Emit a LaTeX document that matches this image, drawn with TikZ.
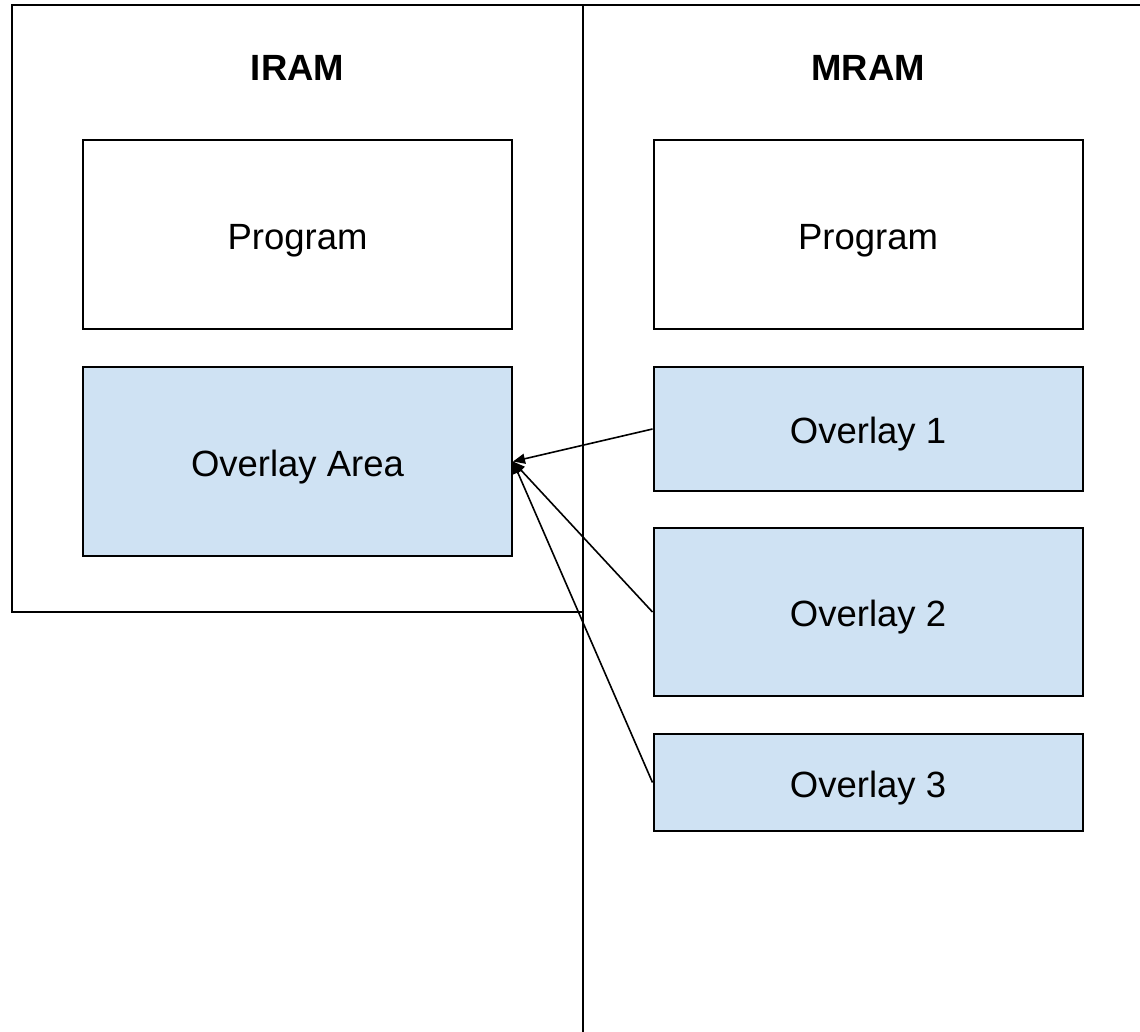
\documentclass[tikz,border=0pt]{standalone}
\usepackage{fontspec}
\setmainfont{Liberation Sans}
\usetikzlibrary{arrows.meta}
\definecolor{ovfill}{HTML}{CFE2F3}
\tikzset{
  frame/.style={line width=2pt, line cap=rect},
  membox/.style={draw=black, line width=2pt, inner sep=0pt,
    minimum width=429pt, font=\fontsize{36.5}{40}\selectfont,
    text height=29.6pt, text depth=0pt},
  ovbox/.style={membox, fill=ovfill},
  title/.style={font=\fontsize{36.5}{40}\selectfont\bfseries, anchor=base},
  link/.style={line width=1.6pt, -{Triangle[length=12pt,width=10pt]}}
}
\begin{document}
\begin{tikzpicture}[x=1pt,y=-1pt]
  \useasboundingbox (0,0) rectangle (1140,1031);
  % memory regions: IRAM frame and the open MRAM column
  \draw[frame] (11.5,612) -- (11.5,5) -- (1140,5);
  \draw[frame] (583,5) -- (583,1031);
  \draw[frame] (11.5,612) -- (583,612);

  % headings
  \node[title] (iramt) at (297.5,80.7) {IRAM};
  \node[title] (mramt) at (868,80.7) {MRAM};

  % IRAM contents
  \node[membox, minimum height=189pt] (iprog) at (297.5,234.5) {Program};
  \node[ovbox, minimum height=189pt] (oarea) at (297.5,461.5) {Overlay Area};

  % MRAM contents
  \node[membox, minimum height=189pt] (mprog) at (868,234.5) {Program};
  \node[ovbox, minimum height=124pt] (ov1) at (868,429) {Overlay 1};
  \node[ovbox, minimum height=168pt] (ov2) at (868,612) {Overlay 2};
  \node[ovbox, minimum height=97pt] (ov3) at (868,782.5) {Overlay 3};

  % overlays loaded into the overlay area
  \draw[link] (ov1.west) -- (oarea.east);
  \draw[link] (ov2.west) -- (oarea.east);
  \draw[link] (ov3.west) -- (oarea.east);
\end{tikzpicture}
\end{document}
